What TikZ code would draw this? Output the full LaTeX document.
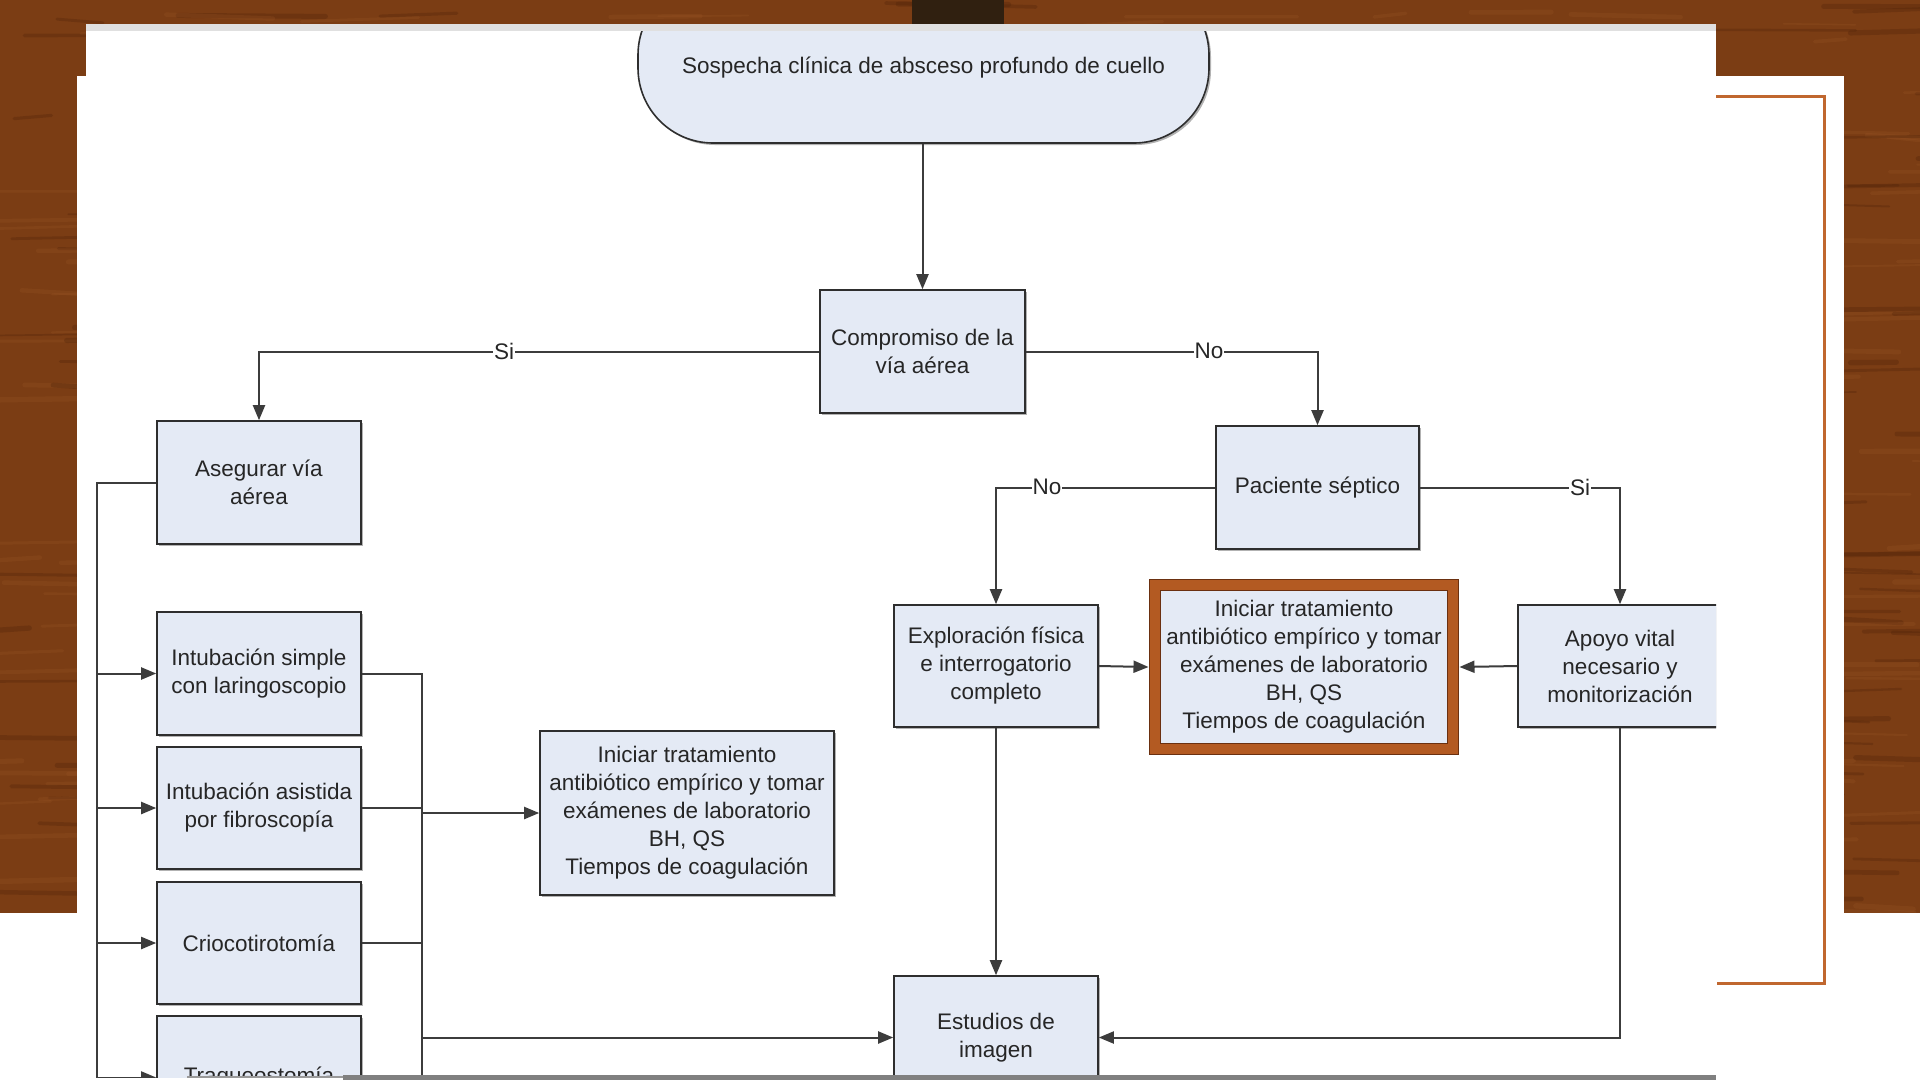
\documentclass[tikz,border=0pt]{standalone}
\usepackage{fontspec}
\usetikzlibrary{arrows.meta,shadows}
\newfontfamily\ffam{Liberation Sans}
\newcommand\ffont{\ffam\fontsize{22.5}{28}\selectfont}
\definecolor{wood}{HTML}{7B3D14}
\definecolor{wooddark}{HTML}{4E2208}
\definecolor{woodlight}{HTML}{9A5626}
\definecolor{boxfill}{HTML}{E4EAF5}
\definecolor{boxline}{HTML}{2E2E2E}
\definecolor{lin}{HTML}{3C3C3C}
\definecolor{txt}{HTML}{262626}
\definecolor{hiorange}{HTML}{B35A22}
\definecolor{hidark}{HTML}{6B3010}
\definecolor{frameorange}{HTML}{C0672F}
\tikzset{
  box/.style={draw=boxline, fill=boxfill, line width=1.6pt, minimum width=204pt,
    minimum height=123pt, inner sep=0pt, align=center, font=\ffont, text=txt,
    drop shadow={shadow xshift=2pt, shadow yshift=-2pt, fill=black!30, opacity=1}},
  conn/.style={draw=lin, line width=2pt},
  arr/.style={conn, -{Triangle[length=15pt,width=12pt]}},
  lbl/.style={fill=white, inner sep=1pt, font=\ffont, text=txt},
}
\begin{document}
\begin{tikzpicture}[x=1pt,y=-1pt]
\useasboundingbox (0,0) rectangle (1920,1080);
% wood background
\fill[wood] (0,0) rectangle (1920,1080);
\pgfmathsetseed{4242}
\foreach \i in {1,...,700}{
  \pgfmathsetmacro\xa{rnd*1960-40}
  \pgfmathsetmacro\ya{rnd*913}
  \pgfmathsetmacro\len{30+rnd*150}
  \pgfmathsetmacro\dy{rnd*8-4}
  \pgfmathsetmacro\lw{1.5+rnd*4}
  \ifodd\i
    \draw[wooddark, opacity=0.3, line width=\lw pt, line cap=round] (\xa,\ya) -- ++(\len,\dy);
  \else
    \draw[woodlight, opacity=0.25, line width=\lw pt, line cap=round] (\xa,\ya) -- ++(\len,\dy);
  \fi
}
% dark strip at top
\fill[black!75!brown] (912,0) rectangle (1004,24);
% white panels
\fill[white] (77,76) rectangle (1844,913);
\fill[white] (86,24) rectangle (1716,913);
\fill[white] (0,913) rectangle (1920,1080);
\fill[black!12] (86,24) rectangle (1716,31);
% orange frame line
\draw[frameorange, line width=3pt] (1716,96) -- (1824,96) -- (1824,983) -- (1717,983);

% flowchart
\begin{scope}
\clip (86,31) rectangle (1716,1077);
\node[draw=boxline, fill=boxfill, line width=1.6pt, rounded corners=75pt,
  minimum width=571pt, minimum height=163pt, font=\ffont, text=txt,
  drop shadow={shadow xshift=2pt, shadow yshift=-2pt, fill=black!30, opacity=1}]
  (term) at (923.5,61.5) {\raisebox{-11.5pt}[0pt][0pt]{Sospecha clínica de absceso profundo de cuello}};

\node[box, minimum width=205pt] (comp) at (922.5,351.5) {Compromiso de la\\vía aérea};
\node[box] (aseg) at (259,482.5) {Asegurar vía\\aérea};
\node[box, minimum width=203pt] (pac) at (1317.5,487.5) {Paciente séptico};
\node[box, minimum height=122pt] (expl) at (996,666) {Exploración física\\e interrogatorio\\completo};
\node[box, minimum height=122pt] (apoyo) at (1620,666) {Apoyo vital\\necesario y\\monitorización};
\node[draw=hidark, double=hiorange, double distance=10pt, line width=1.3pt,
  fill=boxfill, minimum width=298pt, minimum height=164pt, inner sep=0pt,
  outer sep=6.5pt, align=center, font=\ffont, text=txt]
  (high) at (1304,667) {Iniciar tratamiento\\antibiótico empírico y tomar\\exámenes de laboratorio\\BH, QS\\Tiempos de coagulación};
\node[box] (est) at (996,1037.5) {Estudios de\\imagen};
\node[box, minimum width=294pt, minimum height=164pt] (ini) at (687,813) {Iniciar tratamiento\\antibiótico empírico y tomar\\exámenes de laboratorio\\BH, QS\\Tiempos de coagulación};
\node[box] (intA) at (259,673.5) {Intubación simple\\con laringoscopio};
\node[box, minimum height=122pt] (intB) at (259,808) {Intubación asistida\\por fibroscopía};
\node[box, minimum height=122pt] (crio) at (259,943) {Criocotirotomía};
\node[box] (traq) at (259,1077.5) {Traqueostomía};

\coordinate (lb) at (97,1080);
\coordinate (rb) at (422,1080);

\draw[arr] (comp.north |- term.south) -- (comp.north);
\draw[arr] (comp.west) -| (aseg.north);
\draw[arr] (comp.east) -| (pac.north);
\draw[arr] (pac.west) -| (expl.north);
\draw[arr] (pac.east) -| (apoyo.north);
\node[lbl] (lsi1) at (504,351) {Si};
\node[lbl] (lno1) at (1209,351) {No};
\node[lbl] (lno2) at (1047,487) {No};
\node[lbl] (lsi2) at (1580,487) {Si};

\draw[conn] (aseg.west) -| (lb);
\draw[arr] (intA.west -| lb) -- (intA.west);
\draw[arr] (intB.west -| lb) -- (intB.west);
\draw[arr] (crio.west -| lb) -- (crio.west);
\draw[arr] (traq.west -| lb) -- (traq.west);

\draw[conn] (intA.east) -| (rb);
\draw[conn] (intB.east) -- (intB.east -| rb);
\draw[conn] (crio.east) -- (crio.east -| rb);
\draw[arr] (ini.west -| rb) -- (ini.west);
\draw[arr] (est.west -| rb) -- (est.west);

\draw[arr] (expl.south) -- (est.north);
\draw[arr] (expl.east) -- (high.west);
\draw[arr] (apoyo.west) -- (high.east);
\draw[arr] (apoyo.south) |- (est.east);
\end{scope}
% bottom grey band
\fill[black!50] (343,1075) rectangle (1716,1080);
\fill[black!40] (187,1076) rectangle (343,1078);
\end{tikzpicture}
\end{document}
